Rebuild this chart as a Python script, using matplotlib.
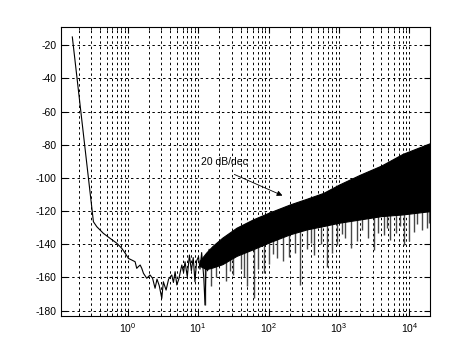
import numpy as np
import matplotlib
matplotlib.use("Agg")
import matplotlib.pyplot as plt

plt.rcParams['font.family'] = ['Liberation Sans', 'DejaVu Sans']
plt.rcParams['mathtext.default'] = 'regular'
plt.rcParams['axes.unicode_minus'] = False

# low frequency trace (Hz, dB)
trace_f = [0.163, 0.325, 0.363, 0.45, 0.56, 0.70, 0.82, 0.92, 1.02, 1.14, 1.27,
           1.34, 1.41, 1.50, 1.58, 1.67, 1.86, 2.07, 2.25, 2.44, 2.6, 2.8, 3.04,
           3.2, 3.5, 3.8, 4.21, 4.45, 4.7, 4.97, 5.3, 5.85, 6.2, 6.5, 7.0, 7.5,
           8.0, 8.5, 9.0, 9.5, 10.1, 10.6, 11.2, 12.0, 12.5, 13.0, 13.6, 14.3, 15.0]
trace_db = [-15, -126.4, -129.4, -133.4, -136.4, -139.4, -142.4, -145.4, -148.5,
            -149.5, -150.5, -154.5, -153.5, -152.5, -154.5, -157.5, -160.5, -158.5,
            -160.5, -166.5, -161, -165, -172.6, -162.6, -167.6, -161, -158.5, -163,
            -156.5, -164.5, -161, -152.5, -157, -150.5, -159.5, -146.5, -156, -148,
            -162.6, -150, -147.5, -155, -145, -160, -176.6, -148, -156, -143, -150]

# dense noise band: upper / lower edge
band_f = [10.5, 13, 16, 22, 35, 60, 100, 200, 350, 600, 1000, 2000, 4000, 8000, 19700]
band_hi = [-150, -145, -141, -136, -130, -125, -121, -116, -112.5, -109, -104, -98, -92.5, -85.5, -79]
band_lo = [-153, -155, -154, -152, -147, -143, -139, -134, -131, -129, -127, -125, -123, -122, -120]

# downward spikes below the band
spike_f = [12.5, 15, 18, 25, 28, 31.6, 40, 45, 50, 61.6, 70, 85, 100, 115, 132, 160,
           193, 240, 282, 350, 400, 438, 550, 680, 800, 940, 1100, 1200, 1460, 1800,
           2140, 2600, 3100, 3600, 4300, 4800, 5340, 6500, 7400, 8300, 10000, 11500,
           13000, 15100, 17500, 19000]
spike_db = [-176.6, -165, -160, -162, -156, -158.5, -155, -160, -165, -172.6, -155,
            -157.5, -152, -146, -148.5, -150, -147.5, -145, -164.5, -143, -139, -146.5,
            -140, -153.5, -145, -140.4, -134, -136, -142.4, -138, -131.4, -136, -143.4,
            -133, -134.4, -130, -137.4, -133, -129, -140.4, -138, -132.4, -128, -131.4,
            -130, -127]

fig = plt.figure(figsize=(4.74, 3.55), dpi=100)
ax = fig.add_axes([0.1295, 0.110, 0.778, 0.813])

ax.set_xscale('log')
ax.set_xlim(0.114, 1.97e4)
ax.set_ylim(-183.2, -9.2)
ax.set_yticks(np.arange(-180, -19, 20))

lo_at_spike = np.interp(np.log10(spike_f), np.log10(band_f), band_lo)
ax.vlines(spike_f, spike_db, lo_at_spike + 2, color='#484848', lw=1.0, zorder=3)
ax.fill_between(band_f, band_lo, band_hi, color='black', lw=0.8, zorder=4)
ax.plot(trace_f, trace_db, color='black', lw=0.8, zorder=5)

ax.text(11, -90.2, '20 dB/dec', fontsize=7.5, va='center', ha='left')
ax.annotate('', xy=(171, -111.3), xytext=(30, -97.2),
            arrowprops=dict(arrowstyle='-|>', color='black', lw=0.6,
                            mutation_scale=8))

ax.grid(True, which='major', color='black', ls=(0, (2.5, 3)), lw=0.7)
ax.grid(True, which='minor', axis='x', color='black', ls=(0, (2.5, 3)), lw=0.7)
ax.set_axisbelow(True)

ax.tick_params(which='both', direction='in', top=True, right=True, labelsize=7.5)
ax.tick_params(which='major', length=4)
ax.tick_params(which='minor', length=2)
for s in ax.spines.values():
    s.set_linewidth(0.8)

fig.savefig('out.png', dpi=100)
